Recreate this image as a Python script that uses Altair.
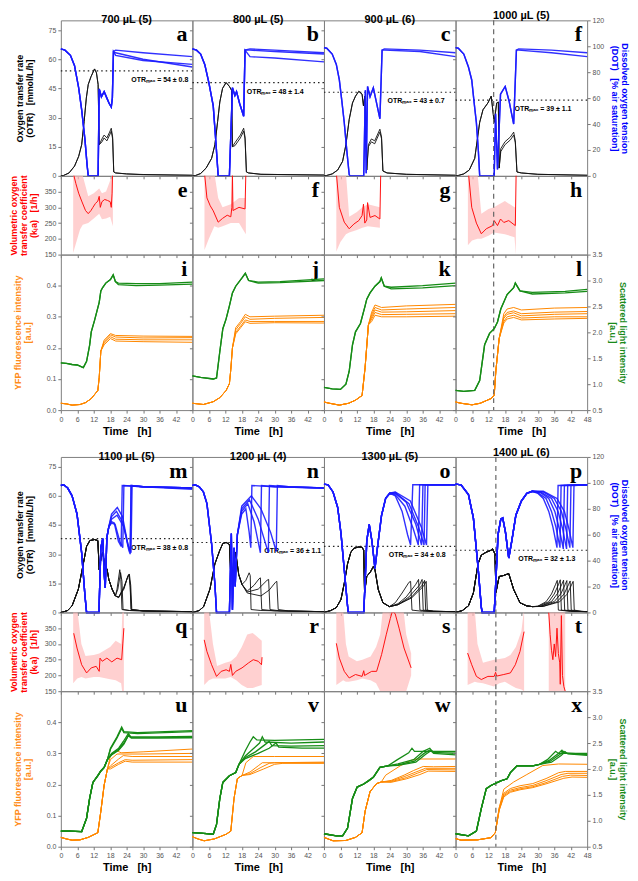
import altair as alt
import pandas as pd

# ---------------- layout constants ----------------
W, HT, HM, HB, GAP = 132, 156, 79, 156, 47
SP = "\u00a0\u00a0\u00a0"

# ---------------- labels ----------------
CONDS = ["700", "800", "900", "1000", "1100", "1200", "1300", "1400"]
COL_TITLES = ["700 µL (5)", "800 µL (5)", "900 µL (6)", "1000 µL (5)",
              "1100 µL (5)", "1200 µL (4)", "1300 µL (5)", "1400 µL (6)"]
LET_TOP = ["a", "b", "c", "f", "m", "n", "o", "p"]
LET_MID = ["e", "f", "g", "h", "q", "r", "s", "t"]
LET_BOT = ["i", "j", "k", "l", "u", "v", "w", "x"]
OTR_MAX = [54, 48, 43, 39, 38, 36, 34, 32]
OTR_SD = ["0.8", "1.4", "0.7", "1.1", "0.8", "1.1", "0.8", "1.3"]
OTR_LABEL_T = [46.5, 40.6, 44.0, 42.3, 46.4, 47.0, 44.4, 43.7]
DASH_CONDS = ["1000", "1400"]
DASH_T = [13.9, 14.7]

OTR_TITLE = ["Oxygen transfer rate", "(OTR)" + SP + "[mmol/L/h]"]
KLA_TITLE = ["Volumetric oxygen", "transfer coefficient", "(kₗa)" + SP + "[1/h]"]
YFP_TITLE = ["YFP fluorescence intensity", "[a.u.]"]
DOT_TITLE = ["Dissolved oxygen tension", "(DOT)" + SP + "[% air saturation]"]
SL_TITLE = ["Scattered light intensity", "[a.u.]"]
TIME_TITLE = "Time" + SP + "[h]"

# ---------------- OTR [mmol/L/h] ----------------
OTR_700_HEAD = [(0, 0), (1, 0.2), (3, 1.5), (5, 5), (6.5, 10), (7.6, 16), (8.5, 28), (9.3, 40), (10, 47), (11, 51),
                (12.3, 55), (13, 53), (13.6, 47), (14, 16)]
OTR_700_TAILS = [
    [(15, 19), (15.8, 21), (16.8, 19.5), (17.8, 22.5), (18.4, 24.5), (18.9, 20), (19.3, 2), (20, 1.5), (24, 1), (30, 0.7), (48, 0.3)],
    [(15, 17.5), (15.8, 19.5), (16.8, 18), (17.8, 21), (18.4, 23), (18.9, 19), (19.3, 2), (20, 1.5), (24, 1), (30, 0.6), (48, 0.3)]]
OTR_800_HEAD = [(0, 0), (1.2, 0.2), (3, 1.2), (5, 4), (7, 9), (8.2, 16), (9.2, 28), (10, 38), (11, 45), (12.3, 48),
                (13.5, 46), (14.3, 44), (14.6, 15)]
OTR_800_TAILS = [
    [(15.5, 17), (16.5, 19), (17.5, 21), (18.7, 24.5), (19.2, 20), (19.7, 2), (20.5, 1.5), (25, 0.8), (48, 0.4)],
    [(15.5, 15.5), (16.5, 17.5), (17.5, 19.5), (18.7, 23), (19.2, 19), (19.7, 2), (20.5, 1.5), (25, 0.8), (48, 0.4)]]
OTR_900_HEAD = [(0, 0), (1, 0.2), (3, 1), (5, 3), (6.8, 7.5), (8, 16), (9.2, 29), (10.4, 37.5), (11.5, 41), (12.7, 43.5),
                (13.9, 42), (14.4, 36), (14.9, 41), (15.6, 3)]
OTR_900_TAILS = [
    [(16.2, 16), (17.3, 19), (18.5, 18), (20.4, 24), (21, 20), (21.5, 2.5), (23, 1.5), (30, 0.8), (48, 0.3)],
    [(16.2, 15), (17.3, 17.5), (18.5, 16.5), (20.4, 22.5), (21, 19), (21.5, 2.5), (23, 1.5), (30, 0.8), (48, 0.3)]]
OTR_1000_HEAD = [(0, 0), (1, 0.2), (3, 1), (5, 3), (7, 9), (8.8, 27.5), (10, 34), (11.8, 37.5), (13, 41), (14.1, 27.5),
                 (15, 37.5), (15.6, 38), (15.9, 4)]
OTR_1000_TAILS = [
    [(16.5, 14), (18, 17.5), (20, 20), (21.2, 22.5), (21.8, 18), (22.4, 2), (24, 1.5), (30, 0.8), (48, 0.3)],
    [(16.5, 12.5), (18, 16), (20, 18.5), (21.2, 21), (21.8, 17), (22.4, 2), (24, 1.5), (30, 0.8), (48, 0.3)]]
OTR_1100_HEAD = [(0, 0), (0.7, 0.2), (2.5, 1), (4.1, 3.4), (6.4, 12), (8.2, 25), (9.4, 34), (10.6, 37), (12.3, 37.5),
                 (13.5, 37), (14, 22), (14.8, 29), (15.3, 31), (15.9, 25), (16.9, 22), (17.5, 17), (18.7, 12),
                 (19.9, 8.5)]
OTR_1100_TAILS = [
    [(20.5, 12), (21.5, 22), (21.9, 17), (22.3, 1.5), (25, 1), (35, 0.6), (48, 0.4)],
    [(20.8, 12), (21.8, 20.5), (22.3, 16), (22.7, 1.5), (25, 1), (35, 0.6), (48, 0.4)],
    [(21.1, 7.6), (23, 12), (24.4, 18.5), (24.8, 19.5), (25.3, 14), (25.7, 1.5), (30, 0.8), (48, 0.4)],
    [(21.1, 7.8), (23, 13), (24.6, 19), (25.0, 19.8), (25.5, 14), (25.9, 1.5), (30, 0.8), (48, 0.4)],
    [(21.1, 8), (23, 12.5), (24.5, 18.8), (24.9, 19.3), (25.3, 13), (25.6, 1.5), (30, 0.8), (48, 0.4)]]
OTR_1200_HEAD = [(0, 0), (0.7, 0.2), (2.5, 1), (4.1, 3), (6.4, 12), (8.2, 25), (10, 32), (11.1, 35.5), (12.3, 36),
                 (13.5, 35), (14, 18.7), (14.8, 22), (15.8, 31), (16.9, 19.5), (18.1, 14.4)]
OTR_1200_TAILS = [
    [(19.5, 16.5), (20.7, 20.4), (21.1, 19), (21.4, 1.5), (25, 1), (48, 0.4)],
    [(20, 11), (22.5, 14), (24.3, 17.3), (24.8, 17.8), (25.3, 1.5), (30, 0.8), (48, 0.4)],
    [(20, 10.5), (24, 12), (27.2, 16.5), (27.8, 17), (28.3, 1.5), (32, 0.8), (48, 0.4)],
    [(20, 10), (25, 8.5), (28, 11.5), (30.3, 15.5), (30.8, 16), (31.3, 1.5), (35, 0.8), (48, 0.4)]]
OTR_1300_HEAD = [(0, 0), (0.5, 0.2), (2.5, 1), (4.5, 2.5), (6.2, 6.7), (7.4, 15), (8.6, 25), (9.8, 31), (10.9, 33),
                 (12.7, 33.7), (13.9, 33.5), (14.5, 32), (14.8, 10), (15.6, 18.5), (17, 21), (18, 23.6), (18.6, 22),
                 (19.8, 11.8), (21.5, 5), (23.9, 3)]
OTR_1300_TAILS = [
    [(26, 5), (28.5, 10), (31, 15.5), (31.6, 16), (32.1, 1.2), (36, 0.6), (48, 0.4)],
    [(27, 4.5), (30, 8), (33.5, 14.5), (34.5, 17), (35, 1.2), (38, 0.6), (48, 0.4)],
    [(27, 4), (31, 8), (34.8, 14), (35.8, 17), (36.2, 1.2), (40, 0.6), (48, 0.4)],
    [(27, 4), (32, 8), (35.8, 14), (36.7, 16.5), (37.1, 1.2), (40, 0.6), (48, 0.4)],
    [(27, 4), (32, 7.5), (36.3, 13.5), (37.3, 16), (37.7, 1.2), (40, 0.6), (48, 0.4)]]
OTR_1400_HEAD = [(0, 0), (0.6, 0.2), (2.5, 1), (4.7, 3.4), (6.5, 10), (8.2, 25), (9.4, 29.5), (11.2, 31), (12.9, 32),
                 (13.5, 32.7), (14.4, 30), (14.7, 10), (15.9, 18.5), (17.5, 19), (19.4, 20), (21.2, 11.8), (23.5, 5),
                 (25.9, 3.4), (28, 3)]
OTR_1400_TAILS = [
    [(30, 3.2), (33, 5.5), (35, 9.5), (36.5, 14.5), (37.1, 16.5), (37.5, 1.2), (42, 0.6), (48, 0.4)],
    [(30, 3.1), (34, 5.5), (36, 9.5), (37.6, 14.5), (38.2, 16.8), (38.6, 1.2), (42, 0.6), (48, 0.4)],
    [(31, 3.2), (35, 5.6), (37.2, 9.8), (38.8, 14.6), (39.4, 16.6), (39.8, 1.2), (43, 0.6), (48, 0.4)],
    [(31, 3.1), (36, 5.6), (38.4, 9.6), (40, 14.4), (40.6, 16.4), (41, 1.2), (44, 0.6), (48, 0.4)],
    [(32, 3.2), (37, 5.5), (39.6, 9.5), (41.2, 14.3), (41.8, 16.2), (42.2, 1.2), (45, 0.6), (48, 0.4)],
    [(32, 3.1), (38, 5.5), (40.7, 9.4), (42.3, 14.2), (42.9, 16), (43.3, 1.2), (46, 0.6), (48, 0.4)]]

# ---------------- DOT [% air saturation] ----------------
DOT_700_HEAD = [(0, 98), (1.5, 97), (3.5, 93), (5, 85), (6.5, 68), (7.6, 51), (8.8, 28), (9.6, 8), (10, 0), (13.6, 0),
                (14, 67), (14.8, 61), (15.8, 65), (16.8, 60), (17.6, 56), (18.4, 53), (18.8, 60), (19.2, 96)]
DOT_700_TAILS = [[(20, 97), (30, 95), (48, 92)], [(20, 95), (30, 90), (48, 84)], [(20, 93), (30, 89), (48, 86)]]
DOT_800_HEAD = [(0, 98), (1.5, 97), (3, 94), (4.5, 86), (6, 72), (7.6, 54), (8.6, 25), (9.4, 0), (13.5, 0), (14.6, 68),
                (15.5, 62), (16.1, 65), (17.2, 56), (18.1, 50), (18.7, 46), (19.2, 97)]
DOT_800_TAILS = [[(21, 98), (30, 97), (48, 95)], [(21, 97), (30, 96), (48, 94)], [(21, 92), (30, 91), (48, 88)]]
DOT_900_HEAD = [(0, 99), (1, 98.5), (3, 94), (4.5, 86), (5.6, 74), (6.5, 58), (7.4, 41), (8.3, 20), (9.2, 1), (9.5, 0),
                (14.5, 0), (15.1, 66), (15.4, 2), (15.9, 69), (16.8, 61), (18, 68), (19, 58), (20.4, 44), (21.2, 97)]
DOT_900_TAILS = [[(22, 98), (35, 97), (48, 95)], [(22, 97), (35, 96), (48, 92)]]
DOT_1000_HEAD = [(0, 99), (1, 98.5), (3, 94), (4.7, 84), (5.9, 74), (6.8, 56), (7.6, 41), (8.3, 20), (8.8, 0), (14.1, 0),
                 (14.6, 48), (15.3, 5), (16.4, 63), (18.1, 69), (19.5, 58), (21.2, 40), (22.2, 97)]
DOT_1000_TAILS = [[(23, 98), (35, 97), (48, 95)], [(23, 97), (35, 95), (48, 92)]]
DOT_1100_HEAD = [(0, 98), (1, 98.5), (2.5, 96), (4.1, 90), (5.9, 76), (7.6, 46), (8.8, 13), (9.4, 0), (13.9, 0),
                 (14.6, 50), (15.3, 57), (15.8, 30), (16.2, 19), (16.8, 58), (17.5, 66)]
DOT_1100_TAILS = [
    [(18.5, 70), (19.5, 69), (21, 55), (22, 51), (22.4, 98), (30, 97), (48, 96)],
    [(18.5, 69), (19.8, 68), (21.5, 55), (22.6, 50), (23, 98), (30, 97), (48, 96)],
    [(18.5, 76), (20.6, 81), (22.5, 74), (24.5, 52), (25.3, 47), (25.7, 98), (30, 97), (48, 96)],
    [(18.5, 74), (20.3, 78), (22.5, 70), (24.8, 50), (25.6, 46), (26, 98), (30, 97), (48, 95)],
    [(18.5, 72), (20.5, 75), (23, 66), (24.8, 48), (25.3, 45), (25.6, 98), (30, 97), (48, 96)]]
DOT_1200_HEAD = [(0, 98), (1, 98.5), (2.5, 97), (4, 93), (5.3, 84), (7, 53), (8.2, 22), (8.8, 0), (13.5, 0), (14.2, 61),
                 (14.6, 2), (15.2, 50), (15.6, 20), (16.4, 60)]
DOT_1200_TAILS = [
    [(18, 76), (19.5, 80), (20.7, 62), (21.3, 50), (21.7, 98), (30, 97), (48, 96)],
    [(18, 78), (20.2, 84), (22.5, 70), (24.8, 46), (25.2, 98), (30, 97), (48, 96)],
    [(18, 80), (20.8, 87), (24, 72), (27.7, 46), (28.1, 98), (35, 97), (48, 96)],
    [(18, 82), (21.5, 90), (25, 80), (28.5, 62), (30.6, 47), (31, 98), (35, 97), (48, 96)]]
DOT_1300_HEAD = [(0, 99), (1.5, 98.5), (3.3, 93), (5, 81), (6.2, 61), (7.4, 33), (8.6, 5), (8.9, 0), (14.5, 0),
                 (15, 23), (15.6, 55), (16.5, 68), (17.5, 55), (18.6, 34), (19.5, 50), (21, 75), (22.5, 88), (24, 92)]
DOT_1300_TAILS = [
    [(26, 90), (28.5, 78), (30.5, 60), (31.6, 52), (32.4, 98.5), (48, 98.5)],
    [(26, 91), (29.5, 82), (32.5, 65), (34.4, 52), (34.9, 98.5), (48, 98.5)],
    [(26, 92), (30, 85), (33.5, 68), (35.6, 52), (36.1, 98.5), (48, 98.5)],
    [(26, 92.5), (31, 84), (34.5, 66), (36.5, 52), (36.9, 98.5), (48, 98.5)],
    [(26, 93), (31.5, 86), (35.5, 66), (37.4, 52), (37.9, 98.5), (48, 98.5)]]
DOT_1400_HEAD = [(0, 99), (2, 98.5), (4.7, 91), (6.5, 73), (8.2, 35), (9.4, 4), (9.7, 0), (14.1, 0), (14.6, 20),
                 (15.5, 60), (16.5, 72), (17.2, 73), (18.2, 62), (19.4, 42), (20.5, 55), (22, 75), (24, 86), (26, 92),
                 (28, 93.5)]
DOT_1400_TAILS = [
    [(30, 92), (32, 88), (34, 78), (35.5, 66), (37, 50), (37.4, 98), (48, 98.5)],
    [(30, 92.5), (33, 88), (35, 78), (36.6, 66), (38.1, 50), (38.5, 98), (48, 98.5)],
    [(31, 92.5), (34, 88), (36.2, 78), (37.8, 65), (39.3, 49), (39.7, 98), (48, 98.5)],
    [(31, 93), (35, 88), (37.4, 78), (39, 65), (40.5, 49), (40.9, 98), (48, 98.5)],
    [(32, 93), (36, 88), (38.6, 78), (40.2, 65), (41.7, 50), (42.1, 98), (48, 98.5)],
    [(32, 93.5), (37, 88), (39.7, 78), (41.3, 65), (42.8, 50), (43.2, 98), (48, 98.5)]]

# ---------------- kLa [1/h]: mean and band (t, low, high) ----------------
KLA_700 = [(4.5, 410), (5.5, 375), (6.5, 345), (7.6, 320), (9, 290), (10, 280), (11, 290), (11.7, 300), (12.6, 312),
           (13.5, 320), (14, 335), (14.4, 300), (15, 318), (16, 325), (17, 322), (18, 318), (18.4, 300), (18.7, 345),
           (18.9, 420)]
KLA_700_BAND = [(4.5, 155, 410), (5.5, 185, 410), (7, 230, 410), (8, 245, 400), (10, 250, 335), (12, 265, 345),
                (14, 280, 360), (15, 262, 345), (16.5, 265, 350), (18, 270, 385), (19, 240, 410)]
KLA_800 = [(4.4, 410), (5.3, 330), (6.5, 305), (7.6, 289), (9.4, 253), (11, 265), (12.7, 275), (14, 270), (14.4, 300),
           (14.6, 410), (14.8, 290), (17, 300), (19.2, 295), (19.5, 410)]
KLA_800_BAND = [(4.4, 165, 410), (6, 200, 410), (8, 240, 410), (9.4, 235, 330), (11, 240, 300), (14, 250, 310),
                (17, 250, 330), (19.5, 215, 330)]
KLA_900 = [(4.5, 410), (5.6, 300), (7.4, 253), (9.2, 232), (10.9, 247), (12.7, 258), (13.9, 274), (14.4, 310),
           (14.9, 250), (15.6, 260), (15.9, 315), (16.8, 268), (18.6, 274), (20.4, 263), (20.7, 410)]
KLA_900_BAND = [(4.5, 160, 410), (6, 190, 410), (8, 215, 410), (9.2, 220, 270), (12, 228, 285), (14, 235, 300),
                (16, 240, 310), (20.4, 235, 300)]
KLA_1000 = [(4.7, 410), (5.9, 300), (7.6, 250), (9.4, 216), (11.2, 232), (13.5, 242), (14.1, 258), (15.3, 242),
            (16.4, 263), (17.6, 252), (19.4, 258), (21.8, 242), (22.1, 410)]
KLA_1000_BAND = [(4.5, 180, 410), (6, 195, 410), (8, 200, 410), (9.4, 200, 280), (12, 210, 295), (14, 220, 300),
                 (18, 215, 320), (21.5, 205, 300), (22, 150, 300)]
KLA_1100 = [(4.7, 334), (5.9, 287), (7.6, 234), (9.4, 208), (11.1, 224), (12.9, 229), (14, 213), (14.3, 255),
            (15.1, 245), (16.8, 255), (18.6, 243), (20.5, 255), (22.2, 250), (22.6, 300), (23, 350)]
KLA_1100_BAND = [(4.5, 175, 410), (6, 190, 410), (7.5, 195, 300), (9, 190, 262), (12, 195, 265), (14, 195, 270),
                 (18, 188, 290), (20, 185, 310), (22, 175, 300), (22.5, 140, 410), (23, 140, 410)]
KLA_1200 = [(4.3, 313), (5.3, 276), (7, 234), (8.8, 197), (10.5, 213), (12.3, 218), (13.5, 213), (14, 235),
            (14.6, 200), (15.8, 213), (18.1, 224), (20.5, 240), (22.2, 250), (24, 245), (25.2, 234), (25.4, 258)]
KLA_1200_BAND = [(4.3, 170, 410), (6, 185, 410), (7.5, 190, 300), (9, 190, 230), (12, 190, 240), (14, 195, 245),
                 (16, 185, 260), (18, 170, 290), (20, 160, 330), (22, 160, 335), (25.3, 170, 310)]
KLA_1300 = [(4.5, 302), (5.6, 255), (7.4, 213), (9.2, 192), (11.5, 203), (13.9, 197), (14.5, 215), (14.8, 200),
            (17.4, 213), (19.2, 213), (21, 266), (22.7, 329), (24.2, 381), (25, 405), (26, 395), (27.4, 350),
            (29.2, 287), (31.8, 224)]
KLA_1300_BAND = [(4.5, 170, 410), (7, 185, 410), (8, 180, 300), (9, 180, 260), (12, 185, 245), (14, 190, 250),
                 (17, 185, 260), (19, 175, 290), (20.5, 150, 330), (21.5, 140, 410), (29, 140, 410), (30, 150, 330),
                 (31.8, 200, 270)]
KLA_1400 = [(4.4, 271), (5.9, 234), (7.6, 197), (9.4, 187), (11.8, 197), (14.1, 197), (14.6, 210), (15, 198),
            (17.6, 203), (20, 208), (21.8, 234), (23.5, 276), (25, 339)]
KLA_1400_BAND = [(4.4, 170, 410), (7, 180, 410), (8, 178, 300), (10, 175, 240), (14, 165, 250), (16, 175, 252),
                 (18, 180, 255), (20, 170, 265), (22, 160, 290), (24, 155, 340), (25, 150, 410)]
KLA_1400_B = [(34, 400), (34.5, 330), (35, 280), (35.5, 250), (36, 300), (36.5, 260), (37, 350), (37.5, 270),
              (38, 240), (38.2, 172), (38.6, 390), (39, 200), (39.5, 165), (40, 150)]
KLA_1400_B_BAND = [(34, 140, 410), (40, 140, 410)]

# ---------------- YFP fluorescence [a.u.] ----------------
YFP_700_HEAD = [(0, 0.022), (2, 0.02), (4.1, 0.016), (7, 0.018), (9, 0.024), (11.1, 0.037), (13.5, 0.063), (14, 0.105),
                (14.6, 0.19)]
YFP_700_TAILS = [
    [(15.8, 0.225), (18.1, 0.246), (20, 0.24), (30, 0.238), (48, 0.237)],
    [(15.8, 0.22), (18.1, 0.242), (20, 0.235), (30, 0.232), (48, 0.233)],
    [(15.8, 0.215), (18.1, 0.236), (20, 0.228), (30, 0.226), (48, 0.226)],
    [(15.8, 0.21), (18.1, 0.23), (20, 0.222), (30, 0.22), (48, 0.218)]]
YFP_800_HEAD = [(0, 0.022), (2, 0.02), (4, 0.018), (7.6, 0.027), (10, 0.04), (12.3, 0.063), (13.5, 0.085), (14, 0.13),
                (14.6, 0.2)]
YFP_800_TAILS = [
    [(15.8, 0.265), (17.6, 0.285), (19.3, 0.308), (21, 0.3), (30, 0.302), (48, 0.305)],
    [(15.8, 0.258), (17.6, 0.279), (19.3, 0.3), (21, 0.292), (30, 0.295), (48, 0.298)],
    [(15.8, 0.25), (17.6, 0.27), (19.3, 0.29), (21, 0.285), (30, 0.285), (48, 0.285)],
    [(15.8, 0.245), (17.6, 0.265), (19.3, 0.284), (21, 0.279), (30, 0.281), (48, 0.28)]]
YFP_900_HEAD = [(0, 0.026), (2, 0.022), (5.6, 0.016), (9, 0.022), (11.5, 0.032), (13.9, 0.047), (15, 0.137),
                (16.2, 0.274)]
YFP_900_TAILS = [
    [(17.4, 0.315), (18.6, 0.338), (21, 0.33), (30, 0.335), (48, 0.34)],
    [(17.4, 0.307), (18.6, 0.33), (21, 0.322), (30, 0.325), (48, 0.33)],
    [(17.4, 0.3), (18.6, 0.322), (21, 0.315), (30, 0.316), (48, 0.32)],
    [(17.4, 0.293), (18.6, 0.314), (21, 0.307), (30, 0.308), (48, 0.31)],
    [(17.4, 0.285), (18.6, 0.305), (21, 0.3), (30, 0.3), (48, 0.302)]]
YFP_1000_HEAD = [(0, 0.026), (2, 0.022), (6, 0.017), (9, 0.022), (12.9, 0.037), (14.1, 0.047), (14.7, 0.126),
                 (15.9, 0.23)]
YFP_1000_TAILS = [
    [(17.6, 0.31), (18.8, 0.325), (21.2, 0.33), (24, 0.322), (36, 0.328), (48, 0.33)],
    [(17.6, 0.3), (18.8, 0.314), (21.2, 0.319), (24, 0.31), (36, 0.315), (48, 0.317)],
    [(17.6, 0.295), (18.8, 0.308), (21.2, 0.313), (24, 0.303), (36, 0.308), (48, 0.31)],
    [(17.6, 0.285), (18.8, 0.3), (21.2, 0.305), (24, 0.296), (36, 0.3), (48, 0.3)],
    [(17.6, 0.28), (18.8, 0.293), (21.2, 0.298), (24, 0.29), (36, 0.293), (48, 0.295)]]
YFP_1100_HEAD = [(0, 0.03), (2, 0.025), (4.1, 0.021), (7, 0.022), (10, 0.03), (13.5, 0.045), (14.6, 0.114),
                 (15.8, 0.198), (17, 0.25)]
YFP_1100_TAILS = [
    [(18.1, 0.293), (20.5, 0.308), (22, 0.302), (30, 0.305), (48, 0.314)],
    [(18.1, 0.28), (20.5, 0.298), (22, 0.298), (30, 0.298), (48, 0.3)],
    [(18.1, 0.26), (21.1, 0.282), (22.8, 0.293), (26, 0.29), (48, 0.29)],
    [(18.1, 0.255), (21.1, 0.27), (23.5, 0.28), (26, 0.278), (48, 0.28)],
    [(18.1, 0.25), (21.1, 0.265), (23.5, 0.275), (26, 0.272), (48, 0.272)]]
YFP_1200_HEAD = [(0, 0.032), (2, 0.025), (4.3, 0.019), (8, 0.025), (12.3, 0.04), (14, 0.05), (15.2, 0.156),
                 (16.4, 0.219), (18.1, 0.229)]
YFP_1200_TAILS = [
    [(19.5, 0.27), (22.2, 0.29), (30, 0.29), (48, 0.29)],
    [(21, 0.24), (24, 0.26), (25.5, 0.27), (30, 0.27), (48, 0.272)],
    [(21, 0.235), (25, 0.255), (28, 0.268), (30, 0.27), (48, 0.27)],
    [(21, 0.232), (26, 0.25), (30, 0.265), (33, 0.268), (48, 0.268)]]
YFP_1300_HEAD = [(0, 0.03), (3.3, 0.019), (8, 0.02), (11.5, 0.03), (13.9, 0.045), (15, 0.114), (16.8, 0.177),
                 (19.2, 0.203), (20.9, 0.208)]
YFP_1300_TAILS = [
    [(22.5, 0.23), (28, 0.261), (31.5, 0.277), (33.9, 0.282), (48, 0.282)],
    [(24.5, 0.213), (29.2, 0.23), (32.7, 0.245), (36.2, 0.258), (40, 0.257), (48, 0.258)],
    [(24.5, 0.211), (29.5, 0.226), (33.5, 0.24), (37, 0.252), (48, 0.252)],
    [(24.5, 0.209), (30, 0.222), (34, 0.236), (37.5, 0.248), (48, 0.247)],
    [(24.5, 0.207), (30, 0.218), (35, 0.232), (38, 0.243), (48, 0.242)]]
YFP_1400_HEAD = [(0, 0.026), (2, 0.021), (8, 0.022), (12.9, 0.029), (14.5, 0.045)]
YFP_1400_TAILS = [
    [(15.9, 0.124), (17.6, 0.185), (21.2, 0.208), (26, 0.232), (31.8, 0.261), (37.6, 0.266), (48, 0.265)],
    [(15.9, 0.124), (17.6, 0.172), (20, 0.187), (23.5, 0.196), (28.2, 0.203), (33, 0.219), (37.6, 0.238), (40, 0.242), (48, 0.242)],
    [(15.9, 0.12), (17.6, 0.168), (20, 0.182), (23.5, 0.19), (28.2, 0.197), (33, 0.212), (38.5, 0.232), (41, 0.236), (48, 0.236)],
    [(15.9, 0.118), (17.6, 0.164), (20, 0.178), (23.5, 0.186), (28.2, 0.193), (33, 0.206), (39, 0.226), (42, 0.23), (48, 0.229)],
    [(15.9, 0.116), (17.6, 0.16), (20, 0.175), (23.5, 0.183), (28.2, 0.19), (33, 0.202), (39.5, 0.22), (42.5, 0.224), (48, 0.223)]]

# ---------------- Scattered light [a.u.] ----------------
SL_700_HEAD = [(0, 1.41), (2, 1.40), (4.1, 1.38), (6, 1.37), (8.2, 1.32), (9.4, 1.44), (10.5, 1.75), (11.1, 2.01),
               (12.3, 2.23), (14, 2.58), (14.6, 2.80), (15.2, 2.86), (16.4, 2.95), (18.1, 3.02), (19.1, 3.11),
               (19.9, 2.98)]
SL_700_TAILS = [[(21, 2.95), (27.5, 2.94), (36, 2.94), (48, 2.97)], [(21, 2.92), (27.5, 2.9), (36, 2.91), (48, 2.93)]]
SL_800_HEAD = [(0, 1.16), (3, 1.13), (7.6, 1.10), (8.8, 1.12), (10, 1.63), (11.1, 2.07), (12.3, 2.26), (13.5, 2.51),
               (14.6, 2.76), (15.8, 2.89), (18.1, 3.05), (19.3, 3.14), (20.5, 3.0)]
SL_800_TAILS = [[(24, 2.97), (32, 2.98), (48, 3.03)], [(24, 2.95), (32, 2.96), (48, 3.0)]]
SL_900_HEAD = [(0, 0.94), (3, 0.91), (6, 0.9), (8, 1.0), (9.2, 1.25), (10.4, 1.76), (11.5, 2.01), (13.3, 2.17),
               (15, 2.51), (15.6, 2.64), (16.8, 2.76), (18.6, 2.89), (20.4, 2.98), (20.9, 3.05), (22, 2.89)]
SL_900_TAILS = [[(24.5, 2.87), (36, 2.9), (48, 2.95)], [(24.5, 2.84), (36, 2.86), (48, 2.9)]]
SL_1000_HEAD = [(0, 0.88), (3, 0.86), (7, 0.88), (8.8, 1.07), (10.6, 1.76), (12.4, 1.98), (14.1, 2.07), (15.3, 2.2),
                (16.5, 2.45), (18.8, 2.73), (21.2, 2.86), (21.8, 2.95), (23.5, 2.8)]
SL_1000_TAILS = [[(28, 2.77), (40, 2.79), (48, 2.83)], [(28, 2.74), (40, 2.76), (48, 2.79)]]
SL_1100_HEAD = [(0, 0.8), (3, 0.8), (7.6, 0.79), (9.4, 1.05), (10.5, 1.43), (11.7, 1.74), (13.5, 1.87), (14.6, 1.96),
                (15.8, 2.03), (17, 2.18)]
SL_1100_TAILS = [
    [(18.1, 2.40), (20.5, 2.62), (22.2, 2.81), (23, 2.72), (28, 2.7), (48, 2.74)],
    [(18.1, 2.38), (20.5, 2.6), (22.2, 2.78), (23, 2.7), (28, 2.68), (48, 2.72)],
    [(18.5, 2.3), (21.1, 2.4), (22.8, 2.53), (24.6, 2.68), (25.5, 2.62), (35, 2.62), (48, 2.63)],
    [(18.5, 2.28), (21.1, 2.38), (23, 2.5), (24.8, 2.66), (25.8, 2.6), (35, 2.6), (48, 2.61)],
    [(18.5, 2.27), (21.1, 2.36), (23, 2.48), (24.6, 2.64), (25.6, 2.6), (35, 2.6), (48, 2.6)]]
SL_1200_HEAD = [(0, 0.77), (3, 0.76), (7.6, 0.74), (8.8, 0.93), (10, 1.43), (11.1, 1.74), (13.5, 1.87), (15.8, 1.93),
                (17, 2.09)]
SL_1200_TAILS = [
    [(19.3, 2.35), (21, 2.52), (22.2, 2.62), (23.5, 2.56), (30, 2.55), (48, 2.57)],
    [(19.3, 2.25), (22, 2.38), (24.5, 2.5), (25.5, 2.62), (26.5, 2.52), (36, 2.5), (48, 2.52)],
    [(19.3, 2.22), (23, 2.33), (26, 2.45), (28, 2.53), (29, 2.45), (36, 2.44), (48, 2.45)],
    [(19.3, 2.2), (24, 2.3), (28, 2.4), (30.5, 2.5), (31.5, 2.42), (40, 2.4), (48, 2.4)]]
SL_1300_HEAD = [(0, 0.75), (4.5, 0.71), (6.8, 0.71), (8.6, 0.86), (10.4, 1.43), (12.1, 1.65), (14.5, 1.71),
                (16.2, 1.77), (18, 1.84), (20.4, 2.03), (23.3, 2.06)]
SL_1300_TAILS = [
    [(26.8, 2.18), (30.9, 2.31), (32.1, 2.40), (33, 2.34), (48, 2.34)],
    [(27, 2.1), (32.7, 2.18), (36.2, 2.34), (38.6, 2.40), (39.5, 2.34), (48, 2.33)],
    [(27, 2.08), (33, 2.15), (36.5, 2.3), (38.8, 2.37), (40, 2.32), (48, 2.3)],
    [(27, 2.07), (33.5, 2.13), (37, 2.28), (39, 2.35), (40, 2.3), (48, 2.27)]]
SL_1400_HEAD = [(0, 0.75), (4.7, 0.71), (7.6, 0.8), (9.4, 1.24), (11.2, 1.62), (12.9, 1.68), (16.5, 1.77), (18.8, 1.81),
                (20, 1.93), (22.4, 2.06), (28.2, 2.06), (30.6, 2.09)]
SL_1400_TAILS = [
    [(33.5, 2.18), (36.5, 2.34), (37.5, 2.3), (48, 2.3)],
    [(34, 2.16), (37.5, 2.3), (38.8, 2.36), (39.5, 2.31), (48, 2.28)],
    [(34.5, 2.15), (38, 2.28), (39.5, 2.34), (40.5, 2.3), (48, 2.28)],
    [(35, 2.13), (38.5, 2.26), (40, 2.33), (41, 2.29), (48, 2.26)]]

# ---------------- build tables ----------------
G = globals()
line_rows = []
for c in CONDS:
    for var in ["OTR", "DOT", "YFP", "SL"]:
        head, tails = G[f"{var}_{c}_HEAD"], G[f"{var}_{c}_TAILS"]
        for r, tail in enumerate(tails):
            for t, v in list(head) + list(tail):
                line_rows.append({"cond": c, "var": var, "rep": r, "t": t, "v": v})
lines_df = pd.DataFrame(line_rows)

kla_rows, band_rows = [], []
for c in CONDS:
    segs = [(G[f"KLA_{c}"], G[f"KLA_{c}_BAND"])]
    if f"KLA_{c}_B" in G:
        segs.append((G[f"KLA_{c}_B"], G[f"KLA_{c}_B_BAND"]))
    for s, (mean, band) in enumerate(segs):
        for t, v in mean:
            kla_rows.append({"cond": c, "seg": s, "t": t, "v": v})
        for t, lo, hi in band:
            band_rows.append({"cond": c, "seg": s, "t": t, "lo": lo, "hi": hi})
kla_df = pd.DataFrame(kla_rows)
band_df = pd.DataFrame(band_rows)

otrmax_df = pd.DataFrame({
    "cond": CONDS, "v": OTR_MAX, "t": OTR_LABEL_T,
    "label": [f"OTRₘₐₓ = {m} ± {s}" for m, s in zip(OTR_MAX, OTR_SD)]})
dash_df = pd.DataFrame({"cond": DASH_CONDS, "t": DASH_T})

# ---------------- helpers ----------------
XS = alt.Scale(domain=[0, 48], nice=False, zero=False)
FONT = "Liberation Sans"


def x_enc(bottom, col):
    if bottom:
        vals = list(range(0, 49, 6)) if col == 3 else list(range(0, 43, 6))
        ax = alt.Axis(values=vals, format="d", title=TIME_TITLE, titleFontSize=11, titlePadding=3,
                      labelPadding=2, titleColor="black", labelOverlap=False, labelFlush=False)
    else:
        ax = alt.Axis(values=list(range(0, 49, 6)), labels=False, title=None)
    return alt.X("t:Q", scale=XS, axis=ax)


def letter_layer(txt):
    return alt.Chart(pd.DataFrame({"s": [txt]})).mark_text(
        font="Liberation Serif", fontWeight="bold", fontSize=22, align="right", baseline="alphabetic"
    ).encode(text="s:N", x=alt.value(W - 5), y=alt.value(21))


def dash_layer(cond, x):
    return alt.Chart(dash_df).transform_filter(alt.datum.cond == cond).mark_rule(
        strokeDash=[5, 4], color="#666666", strokeWidth=1.2).encode(x=x)


def top_panel(i):
    cond, col = CONDS[i], i % 4
    x = x_enc(False, col)
    yax = alt.Axis(values=[0, 15, 30, 45, 60, 75], labels=col == 0,
                   title=OTR_TITLE if col == 0 else None, titleColor="black", titlePadding=14)
    y = alt.Y("v:Q", scale=alt.Scale(domain=[0, 80], nice=False), axis=yax)
    src = alt.Chart(lines_df)
    rule = alt.Chart(otrmax_df).transform_filter(alt.datum.cond == cond).mark_rule(
        strokeDash=[1.5, 3], color="#222222", strokeWidth=1.2).encode(y=y)
    text = alt.Chart(otrmax_df).transform_filter(alt.datum.cond == cond).mark_text(
        align="right", baseline="middle", dy=9, fontSize=7, fontWeight="bold", font=FONT).encode(
        x=x, y=y, text="label:N")
    otr = src.transform_filter((alt.datum.cond == cond) & (alt.datum.var == "OTR")).mark_line(
        color="#111111", strokeWidth=1, opacity=0.9).encode(x=x, y=y, detail="rep:N")
    parts = [rule, text, otr]
    if cond in DASH_CONDS:
        parts.append(dash_layer(cond, x))
    parts.append(letter_layer(LET_TOP[i]))
    if col == 3:
        rax = alt.Axis(orient="right", values=list(range(0, 121, 20)), title=DOT_TITLE,
                       titleColor="#0000ff", titlePadding=6)
    else:
        rax = None
    dot = src.transform_filter((alt.datum.cond == cond) & (alt.datum.var == "DOT")).mark_line(
        color="#1a1aff", strokeWidth=1.4, opacity=0.9).encode(
        x=x, y=alt.Y("v:Q", scale=alt.Scale(domain=[0, 120], nice=False), axis=rax), detail="rep:N")
    return alt.layer(alt.layer(*parts), dot).resolve_scale(y="independent").properties(
        width=W, height=HT,
        title=alt.TitleParams(COL_TITLES[i], font=FONT, fontSize=11, fontWeight="bold", offset=-5, anchor="middle"))


def mid_panel(i):
    cond, col = CONDS[i], i % 4
    x = x_enc(False, col)
    ys = alt.Scale(domain=[150, 400], nice=False)
    yax = alt.Axis(values=[150, 200, 250, 300, 350], labels=col == 0,
                   title=KLA_TITLE if col == 0 else None, titleColor="#ff0000", titlePadding=6)
    band = alt.Chart(band_df).transform_filter(alt.datum.cond == cond).mark_area(
        color="#ffbcbc", opacity=0.7, clip=True).encode(
        x=x, y=alt.Y("lo:Q", scale=ys, axis=yax), y2="hi:Q", detail="seg:N")
    mean = alt.Chart(kla_df).transform_filter(alt.datum.cond == cond).mark_line(
        color="#ff1010", strokeWidth=1, clip=True).encode(
        x=x, y=alt.Y("v:Q", scale=ys, axis=yax), detail="seg:N")
    parts = [band, mean]
    if cond in DASH_CONDS:
        parts.append(dash_layer(cond, x))
    parts.append(letter_layer(LET_MID[i]))
    return alt.layer(*parts).properties(width=W, height=HM)


def bot_panel(i):
    cond, col = CONDS[i], i % 4
    x = x_enc(True, col)
    src = alt.Chart(lines_df)
    yax = alt.Axis(values=[0, 0.1, 0.2, 0.3, 0.4], format=".1f", labels=col == 0,
                   title=YFP_TITLE if col == 0 else None, titleColor="#ff8c1a", titlePadding=14)
    yfp = src.transform_filter((alt.datum.cond == cond) & (alt.datum.var == "YFP")).mark_line(
        color="#ff8800", strokeWidth=1).encode(
        x=x, y=alt.Y("v:Q", scale=alt.Scale(domain=[0, 0.5], nice=False), axis=yax), detail="rep:N")
    parts = [yfp]
    if cond in DASH_CONDS:
        parts.append(dash_layer(cond, x))
    parts.append(letter_layer(LET_BOT[i]))
    if col == 3:
        rax = alt.Axis(orient="right", values=[0.5, 1.0, 1.5, 2.0, 2.5, 3.0, 3.5], format=".1f",
                       title=SL_TITLE, titleColor="#1a8a1a", titlePadding=6)
    else:
        rax = None
    sl = src.transform_filter((alt.datum.cond == cond) & (alt.datum.var == "SL")).mark_line(
        color="#168c16", strokeWidth=1.3).encode(
        x=x, y=alt.Y("v:Q", scale=alt.Scale(domain=[0.5, 3.5], nice=False), axis=rax), detail="rep:N")
    return alt.layer(alt.layer(*parts), sl).resolve_scale(y="independent").properties(width=W, height=HB)


def spacer():
    return alt.Chart(pd.DataFrame({"s": [""]})).mark_text().encode(
        text="s:N", x=alt.value(0), y=alt.value(0)).properties(
        width=W, height=GAP, view=alt.ViewBackground(stroke="transparent", fill="transparent"))


panels = []
for b in range(2):
    idx = [4 * b + c for c in range(4)]
    panels += [top_panel(i) for i in idx]
    panels += [mid_panel(i) for i in idx]
    panels += [bot_panel(i) for i in idx]
    if b == 0:
        panels += [spacer() for _ in range(4)]

chart = alt.concat(*panels, columns=4, spacing=0, bounds="flush").properties(
    padding={"left": 0, "right": 0, "top": 0, "bottom": 0}
).configure_view(stroke="#808080", strokeWidth=1).configure_axis(
    labelFontSize=7, labelColor="#555555", labelFont=FONT, tickColor="#777777", tickSize=3,
    domain=False, grid=False, titleFont=FONT, titleFontWeight="bold", titleFontSize=9,
    titleLineHeight=10, labelPadding=2
).configure_text(font=FONT)

chart.save("out.html", embed_options={"renderer": "svg", "actions": False})
